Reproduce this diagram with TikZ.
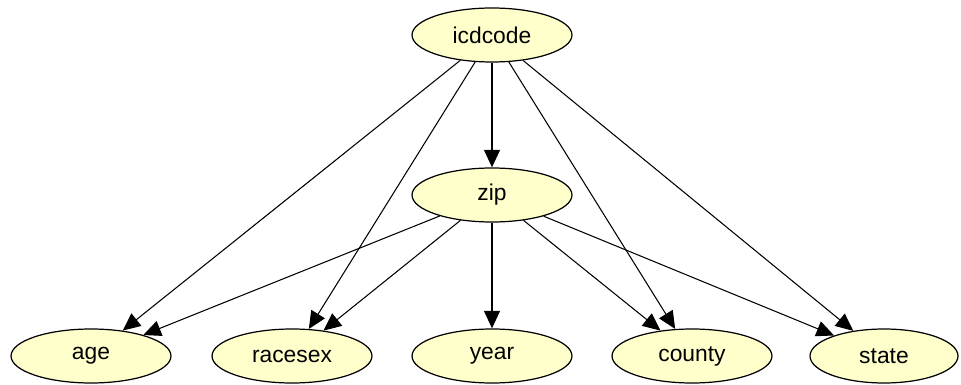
\documentclass[tikz,border=0pt]{standalone}
\usepackage{fontspec}
\setmainfont{Liberation Sans}
\usetikzlibrary{shapes.geometric,arrows.meta}
\definecolor{nodefill}{RGB}{255,255,204}
\begin{document}
\begin{tikzpicture}[x=0.02cm,y=-0.02cm,
  var/.style={ellipse,draw=black,line width=0.7pt,fill=nodefill,minimum width=3.2cm,minimum height=1.08cm,inner sep=0pt,font=\fontsize{13pt}{15pt}\selectfont},
  edge/.style={line width=0.6pt,-{Triangle[length=10pt,width=9pt]}},
  thickedge/.style={line width=1.1pt,-{Triangle[length=10pt,width=9pt]}}]
\useasboundingbox (0,0) rectangle (961,385);
\node[var] (icd) at (492,35) {icdcode};
\node[var] (zip) at (492,195) {zip};
\node[var] (age) at (91,356) {age};
\node[var] (race) at (292,356) {racesex};
\node[var] (year) at (492,356) {year};
\node[var] (county) at (692,356) {county};
\node[var,minimum width=2.96cm] (state) at (884,356) {state};
\draw[thickedge] (icd) -- (zip);
\draw[edge] (icd) -- (age);
\draw[edge] (icd) -- (race);
\draw[edge] (icd) -- (county);
\draw[edge] (icd) -- (state);
\draw[thickedge] (zip) -- (year);
\draw[edge] (zip) -- (age);
\draw[edge] (zip) -- (race);
\draw[edge] (zip) -- (county);
\draw[edge] (zip) -- (state);
\end{tikzpicture}
\end{document}
